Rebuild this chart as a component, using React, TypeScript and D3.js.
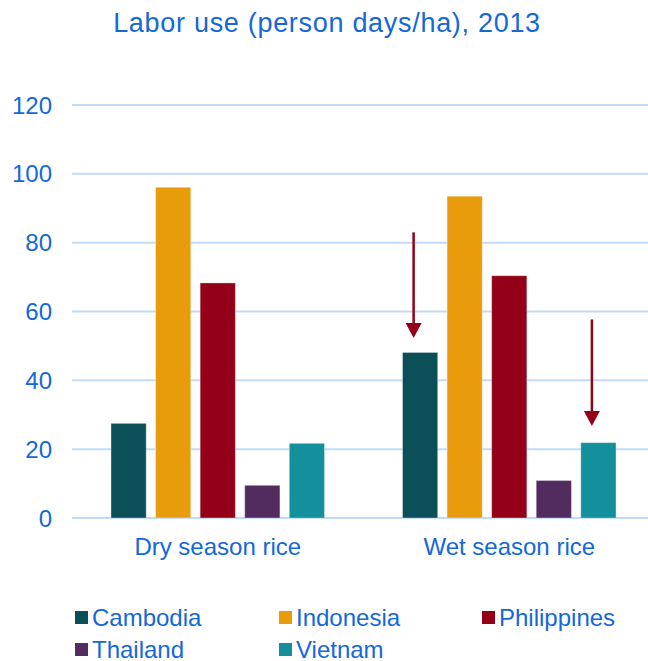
import React from "react";
import * as d3 from "d3";

const categories = ["Dry season rice", "Wet season rice"];
const countries = ["Cambodia", "Indonesia", "Philippines", "Thailand", "Vietnam"];
const colors = ["#0b5058", "#e89c0b", "#930018", "#522c5f", "#13909b"];
const drySeason = [27.5, 96.1, 68.3, 9.5, 21.7];
const wetSeason = [48.1, 93.5, 70.4, 10.9, 21.9];
const seriesByCategory = [drySeason, wetSeason];
const yTicks = [0, 20, 40, 60, 80, 100, 120];
// annotation arrows: [category index, country index, from value, to value]
const arrowCategory = [1, 1];
const arrowCountry = [0, 4];
const arrowFrom = [83, 57.7];
const arrowTo = [52.3, 26.7];

const TEXT = "#1468d8";
const FONT = "'Liberation Sans', Arial, sans-serif";

export default function App() {
  const W = 648, H = 661;
  const y = d3.scaleLinear().domain([0, 120]).range([518, 105]);
  const x0 = d3.scaleBand<string>().domain(categories).range([72, 655]).padding(0);
  const x1 = d3
    .scaleBand<string>()
    .domain(countries)
    .range([39, x0.bandwidth() - 39])
    .paddingInner(0.21)
    .paddingOuter(0);

  const legendX = [75, 279, 482];
  const legendY = [611, 643];

  return (
    <svg width={W} height={H} style={{ position: "absolute", left: 0, top: 0, fontFamily: FONT }}>
      <rect width={W} height={H} fill="#fff" />
      <text x={327} y={31.5} textAnchor="middle" fontSize={27} letterSpacing={0.7} fill={TEXT}>
        Labor use (person days/ha), 2013
      </text>
      {yTicks.map((t) => (
        <g key={t}>
          <line x1={72} x2={W} y1={y(t)} y2={y(t)} stroke="#c0dbf8" strokeWidth={2} />
          <text x={52} y={y(t)} dy="0.36em" textAnchor="end" fontSize={24} fill={TEXT}>
            {t}
          </text>
        </g>
      ))}
      {categories.map((c, ci) => (
        <g key={c} transform={`translate(${x0(c)},0)`}>
          {countries.map((k, ki) => {
            const v = seriesByCategory[ci][ki];
            return (
              <rect
                key={k}
                x={x1(k)}
                y={y(v)}
                width={x1.bandwidth()}
                height={y(0) - y(v)}
                fill={colors[ki]}
                stroke="#ffffff"
                strokeOpacity={0.35}
                strokeWidth={1}
              />
            );
          })}
          <text
            x={x0.bandwidth() / 2}
            y={555}
            textAnchor="middle"
            fontSize={24}
            fill={TEXT}
          >
            {c}
          </text>
        </g>
      ))}
      {arrowCategory.map((ci, i) => {
        const cx = (x0(categories[ci]) as number) + (x1(countries[arrowCountry[i]]) as number) + x1.bandwidth() / 2 - 6.5;
        const y1 = y(arrowFrom[i]);
        const y2 = y(arrowTo[i]);
        return (
          <g key={i}>
            <line x1={cx} x2={cx} y1={y1} y2={y2 - 12} stroke="#930018" strokeWidth={2.5} />
            <path d={`M${cx - 8},${y2 - 15}L${cx + 8},${y2 - 15}L${cx},${y2}Z`} fill="#930018" />
          </g>
        );
      })}
      {countries.map((k, i) => {
        const lx = legendX[i % 3];
        const ly = legendY[Math.floor(i / 3)];
        return (
          <g key={k}>
            <rect x={lx} y={ly} width={13} height={13} fill={colors[i]} />
            <text x={lx + 17} y={ly + 14.5} fontSize={24} fill={TEXT}>
              {k}
            </text>
          </g>
        );
      })}
    </svg>
  );
}
